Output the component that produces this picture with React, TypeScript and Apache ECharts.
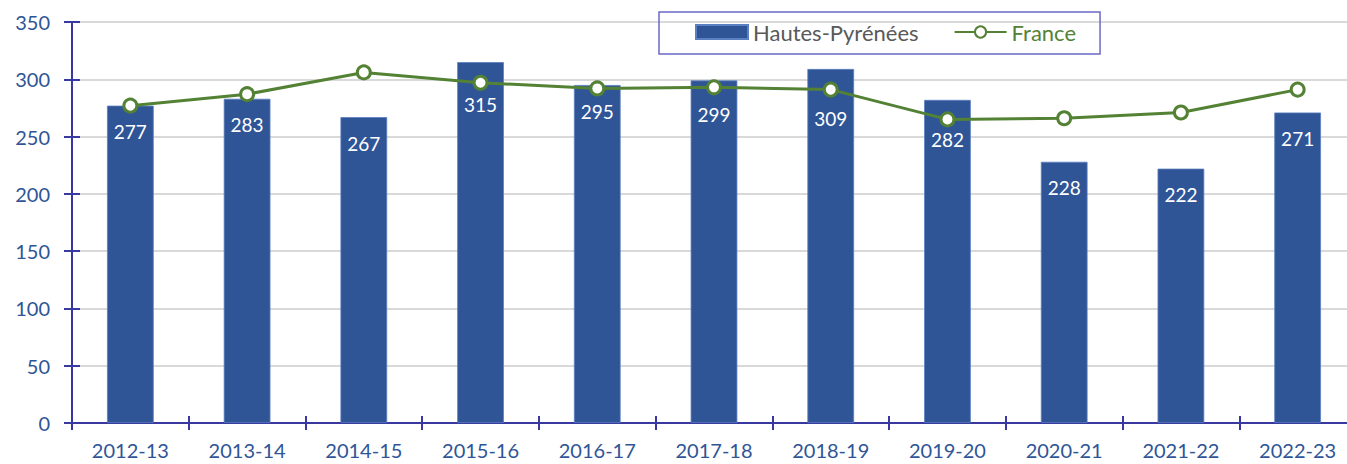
import React, { useEffect, useRef } from "react";
import * as echarts from "echarts";

const categories = ["2012-13", "2013-14", "2014-15", "2015-16", "2016-17", "2017-18", "2018-19", "2019-20", "2020-21", "2021-22", "2022-23"];
const hautesPyrenees = [277, 283, 267, 315, 295, 299, 309, 282, 228, 222, 271];
const france = [277, 287, 306, 297, 292, 293, 291, 265, 266, 271, 291];
// vertical distance (px) of each bar's value label centre below the bar top (moved down where the line crosses)
const labelCentreOffsets = [26, 26, 26, 42, 26, 34, 50, 40, 26, 26, 26];
const yMin = 0;
const yMax = 350;
const yInterval = 50;

const FONT = "Lato, 'Open Sans', sans-serif";
const AXIS = "#3838a0";
const LABEL = "#2f5597";
const BAR = "#2f5597";
const GREEN = "#548235";
const LABEL_FS = 19;

export default function App() {
  const ref = useRef<HTMLDivElement>(null);
  useEffect(() => {
    if (!ref.current) return;
    const chart = echarts.init(ref.current, undefined, { renderer: "svg" });
    const barData = hautesPyrenees.map((v, i) => ({
      value: v,
      label: { distance: labelCentreOffsets[i] - LABEL_FS / 2 },
    }));
    chart.setOption({
      animation: false,
      textStyle: { fontFamily: FONT },
      grid: { left: 72, width: 1284, top: 22, bottom: 41, containLabel: false, outerBoundsMode: "none" },
      legend: {
        left: 659,
        top: 12,
        padding: [9, 24, 11, 36],
        borderColor: "#6a6ac8",
        borderWidth: 1.5,
        borderRadius: 0,
        itemGap: 35,
        itemWidth: 52,
        itemHeight: 14,
        textStyle: { fontFamily: FONT, fontSize: 22, color: "#595959" },
        data: [
          { name: "Hautes-Pyrénées", icon: "rect", textStyle: { color: "#595959" } },
          { name: "France", textStyle: { color: GREEN } },
        ],
      },
      xAxis: [
        {
          type: "category",
          data: categories,
          position: "bottom",
          axisLine: { lineStyle: { color: AXIS, width: 2 } },
          axisTick: { show: true, length: 7, lineStyle: { color: AXIS, width: 2 } },
          axisLabel: { color: LABEL, fontSize: 20, margin: 17, fontFamily: FONT },
          splitLine: { show: false },
        },
        {
          type: "category",
          data: categories,
          position: "bottom",
          axisLine: { show: false },
          axisTick: { show: true, inside: true, length: 7, lineStyle: { color: AXIS, width: 2 } },
          axisLabel: { show: false },
          splitLine: { show: false },
        },
      ],
      yAxis: [
        {
          type: "value",
          min: yMin,
          max: yMax,
          interval: yInterval,
          axisLine: { show: true, lineStyle: { color: AXIS, width: 2 } },
          axisTick: { show: true, length: 8, lineStyle: { color: AXIS, width: 2 } },
          axisLabel: { color: LABEL, fontSize: 20, margin: 22, fontFamily: FONT },
          splitLine: { show: true, lineStyle: { color: "#d9d9d9", width: 2 } },
        },
        {
          type: "value",
          position: "left",
          min: yMin,
          max: yMax,
          interval: yInterval,
          axisLine: { show: false },
          axisTick: { show: true, inside: true, length: 8, lineStyle: { color: AXIS, width: 2 } },
          axisLabel: { show: false },
          splitLine: { show: false },
        },
      ],
      series: [
        {
          name: "Hautes-Pyrénées",
          type: "bar",
          data: barData,
          barWidth: "40%",
          itemStyle: { color: BAR, borderColor: "#5b7fc0", borderWidth: 0.8 },
          label: {
            show: true,
            position: "insideTop",
            distance: 17,
            color: "#ffffff",
            fontSize: LABEL_FS,
            fontFamily: FONT,
          },
        },
        {
          name: "France",
          type: "line",
          data: france,
          symbol: "circle",
          symbolSize: 13,
          lineStyle: { color: GREEN, width: 3 },
          itemStyle: { color: "#ffffff", borderColor: GREEN, borderWidth: 3 },
          z: 5,
        },
      ],
    });
    return () => chart.dispose();
  }, []);
  return <div ref={ref} style={{ width: 1347, height: 464, position: "absolute", left: 0, top: 0 }} />;
}
